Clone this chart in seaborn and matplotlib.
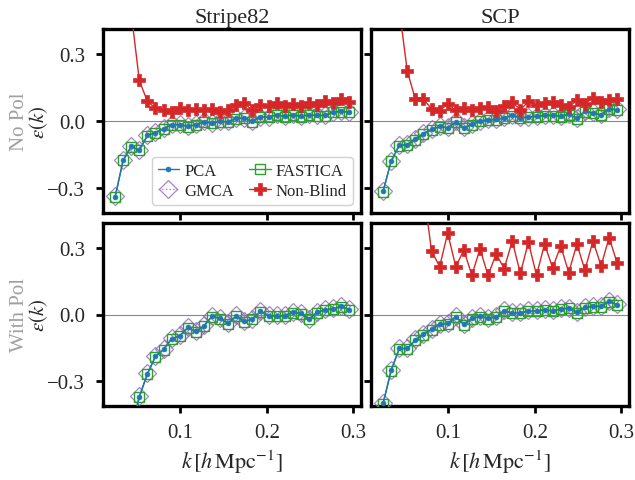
import matplotlib
matplotlib.use("Agg")
import matplotlib.pyplot as plt
import seaborn as sns
import pandas as pd
from matplotlib.lines import Line2D

# ---------------- data ----------------
k = [0.0245, 0.0338, 0.0432, 0.0525, 0.0619, 0.0712, 0.0805, 0.0899, 0.0992, 0.1086,
     0.1179, 0.1272, 0.1366, 0.1459, 0.1553, 0.1646, 0.1739, 0.1833, 0.1926, 0.2020,
     0.2113, 0.2206, 0.2300, 0.2393, 0.2487, 0.2580, 0.2673, 0.2767, 0.2860, 0.2954]

# No Pol, Stripe82
pca_np_s82 = [-0.338, -0.175, -0.113, -0.130, -0.064, -0.052, -0.034, -0.016, -0.016, -0.024,
              -0.016, -0.004, -0.009, -0.001, -0.004, 0.013, 0.013, -0.001, 0.018, 0.018,
              0.028, 0.021, 0.028, 0.021, 0.028, 0.025, 0.025, 0.040, 0.043, 0.040]
fica_np_s82 = [-0.340, -0.176, -0.115, -0.131, -0.066, -0.053, -0.035, -0.018, -0.017, -0.026,
               -0.017, -0.006, -0.010, -0.003, -0.006, 0.011, 0.012, -0.003, 0.016, 0.017,
               0.026, 0.020, 0.026, 0.020, 0.026, 0.024, 0.024, 0.038, 0.041, 0.039]
gmca_np_s82 = [-0.336, -0.173, -0.111, -0.128, -0.062, -0.050, -0.032, -0.014, -0.014, -0.022,
               -0.014, -0.002, -0.007, 0.001, -0.002, 0.015, 0.015, 0.001, 0.020, 0.020,
               0.030, 0.023, 0.030, 0.023, 0.030, 0.027, 0.027, 0.042, 0.045, 0.042]
nb_np_s82 = [3.0, 1.2, 0.48, 0.181, 0.087, 0.058, 0.050, 0.040, 0.058, 0.047,
             0.055, 0.047, 0.055, 0.040, 0.050, 0.070, 0.080, 0.047, 0.070, 0.065,
             0.080, 0.065, 0.077, 0.065, 0.080, 0.070, 0.089, 0.080, 0.096, 0.084]

# No Pol, SCP
pca_np_scp = [-0.313, -0.179, -0.108, -0.105, -0.081, -0.056, -0.037, -0.024, -0.030, -0.004,
              -0.030, -0.015, 0.000, 0.006, 0.007, 0.015, 0.025, 0.015, 0.018, 0.021,
              0.025, 0.025, 0.022, 0.030, 0.013, 0.043, 0.036, 0.028, 0.055, 0.050]
fica_np_scp = [-0.315, -0.180, -0.110, -0.107, -0.083, -0.058, -0.039, -0.026, -0.031, -0.006,
               -0.031, -0.017, -0.002, 0.004, 0.005, 0.013, 0.023, 0.013, 0.016, 0.019,
               0.023, 0.023, 0.020, 0.028, 0.011, 0.041, 0.034, 0.026, 0.053, 0.048]
gmca_np_scp = [-0.311, -0.177, -0.106, -0.103, -0.079, -0.054, -0.035, -0.022, -0.028, -0.002,
               -0.028, -0.013, 0.002, 0.008, 0.009, 0.017, 0.027, 0.017, 0.020, 0.023,
               0.027, 0.027, 0.024, 0.032, 0.015, 0.045, 0.038, 0.030, 0.057, 0.052]
nb_np_scp = [3.0, 1.2, 0.50, 0.222, 0.096, 0.096, 0.055, 0.044, 0.077, 0.047,
             0.058, 0.050, 0.058, 0.062, 0.044, 0.065, 0.084, 0.050, 0.087, 0.070,
             0.080, 0.084, 0.073, 0.062, 0.092, 0.077, 0.104, 0.084, 0.092, 0.099]

# With Pol, Stripe82
pca_wp_s82 = [-1.50, -0.90, -0.52, -0.368, -0.265, -0.187, -0.156, -0.108, -0.096, -0.058,
              -0.076, -0.051, -0.008, -0.017, -0.039, -0.005, -0.031, -0.020, 0.014, -0.005,
              -0.005, -0.005, 0.010, 0.005, -0.020, 0.010, 0.022, 0.025, 0.037, 0.022]
fica_wp_s82 = [-1.50, -0.90, -0.52, -0.370, -0.267, -0.189, -0.158, -0.110, -0.098, -0.060,
               -0.078, -0.053, -0.010, -0.019, -0.041, -0.007, -0.033, -0.022, 0.012, -0.007,
               -0.007, -0.007, 0.008, 0.003, -0.022, 0.008, 0.020, 0.023, 0.035, 0.020]
gmca_wp_s82 = [-1.50, -0.90, -0.52, -0.366, -0.263, -0.185, -0.154, -0.106, -0.094, -0.056,
               -0.074, -0.049, -0.006, -0.015, -0.037, -0.003, -0.029, -0.018, 0.016, -0.003,
               -0.003, -0.003, 0.012, 0.007, -0.018, 0.012, 0.024, 0.027, 0.039, 0.024]

# With Pol, SCP
pca_wp_scp = [-0.398, -0.250, -0.152, -0.152, -0.114, -0.088, -0.066, -0.043, -0.040, -0.010,
              -0.043, -0.016, -0.008, -0.016, -0.010, 0.017, 0.007, 0.007, 0.017, 0.017,
              0.022, 0.017, 0.025, 0.029, 0.010, 0.032, 0.037, 0.037, 0.060, 0.043]
fica_wp_scp = [-0.400, -0.252, -0.154, -0.154, -0.116, -0.090, -0.068, -0.045, -0.042, -0.012,
               -0.045, -0.018, -0.010, -0.018, -0.012, 0.015, 0.005, 0.005, 0.015, 0.015,
               0.020, 0.015, 0.023, 0.027, 0.008, 0.030, 0.035, 0.035, 0.058, 0.041]
gmca_wp_scp = [-0.396, -0.248, -0.150, -0.150, -0.112, -0.086, -0.064, -0.041, -0.038, -0.008,
               -0.041, -0.014, -0.006, -0.014, -0.008, 0.019, 0.009, 0.009, 0.019, 0.019,
               0.024, 0.019, 0.027, 0.031, 0.012, 0.034, 0.039, 0.039, 0.062, 0.045]
nb_wp_scp = [3.0, 2.0, 1.5, 1.1, 0.80, 0.56, 0.286, 0.214, 0.365, 0.214,
             0.289, 0.176, 0.294, 0.176, 0.271, 0.206, 0.330, 0.184, 0.324, 0.176,
             0.316, 0.209, 0.307, 0.188, 0.316, 0.199, 0.330, 0.218, 0.345, 0.229]

fields = ["Stripe82", "SCP"]
rows = ["No Pol", "With Pol"]
methods = ["GMCA", "FASTICA", "PCA", "Non-Blind"]
legend_order = ["PCA", "GMCA", "FASTICA", "Non-Blind"]

panel_data = {
    ("No Pol", "Stripe82"): {"PCA": pca_np_s82, "FASTICA": fica_np_s82,
                             "GMCA": gmca_np_s82, "Non-Blind": nb_np_s82},
    ("No Pol", "SCP"): {"PCA": pca_np_scp, "FASTICA": fica_np_scp,
                        "GMCA": gmca_np_scp, "Non-Blind": nb_np_scp},
    ("With Pol", "Stripe82"): {"PCA": pca_wp_s82, "FASTICA": fica_wp_s82,
                               "GMCA": gmca_wp_s82},
    ("With Pol", "SCP"): {"PCA": pca_wp_scp, "FASTICA": fica_wp_scp,
                          "GMCA": gmca_wp_scp, "Non-Blind": nb_wp_scp},
}

records = []
for (row, field), d in panel_data.items():
    for m, vals in d.items():
        for kk, v in zip(k, vals):
            records.append({"row": row, "field": field, "method": m, "k": kk, "eps": v})
df = pd.DataFrame(records)

# ---------------- styling ----------------
sns.set_theme(style="ticks")
plt.rcParams["font.family"] = ["Liberation Serif", "DejaVu Serif"]
plt.rcParams["mathtext.fontset"] = "stix"
plt.rcParams["axes.unicode_minus"] = True

styles = {
    "PCA": dict(color="#1f77b4", marker="o", markersize=3.5, linewidth=1.0,
                linestyle="-", markerfacecolor="#1f77b4", markeredgecolor="#1f77b4",
                markeredgewidth=0.5),
    "FASTICA": dict(color="#2ca02c", marker="s", markersize=6.5, linewidth=1.0,
                    linestyle="-", markerfacecolor="none", markeredgecolor="#2ca02c",
                    markeredgewidth=1.0),
    "GMCA": dict(color="#9467bd", marker="D", markersize=9, linewidth=1.0,
                 linestyle=":", markerfacecolor="none", markeredgecolor="#9467bd",
                 markeredgewidth=0.9, alpha=0.8),
    "Non-Blind": dict(color="#d62728", marker="P", markersize=8, linewidth=1.0,
                      linestyle="-", markerfacecolor="#d62728", markeredgecolor="#d62728",
                      markeredgewidth=0.5),
}

fig = plt.figure(figsize=(6.35, 4.81), dpi=100)
W, H = 635.0, 481.0
col_x = [103.0, 371.0]
col_w = 258.0
row_y = [(30.0, 214.0), (224.0, 407.0)]

FS = 15
axes = {}
first = None
for ri, row in enumerate(rows):
    for ci, field in enumerate(fields):
        y0, y1 = row_y[ri]
        rect = [col_x[ci] / W, 1 - y1 / H, col_w / W, (y1 - y0) / H]
        ax = fig.add_axes(rect, sharex=first, sharey=first)
        if first is None:
            first = ax
        axes[(row, field)] = ax
        ax.axhline(0, color="#888888", lw=0.8, zorder=1)
        sub = df[(df["row"] == row) & (df["field"] == field)]
        for m in methods:
            s = sub[sub["method"] == m]
            if s.empty:
                continue
            sns.lineplot(data=s, x="k", y="eps", ax=ax, estimator=None, sort=False,
                         legend=False, zorder=3, **styles[m])
        for sp in ax.spines.values():
            sp.set_linewidth(2.4)
            sp.set_color("black")
        ax.tick_params(direction="out", length=5, width=2.0, labelsize=FS,
                       color="black")
        ax.tick_params(axis="x", pad=7)
        ax.tick_params(axis="y", pad=8)
        ax.set_xlabel("")
        ax.set_ylabel("")
        if ri == 0:
            ax.set_title(field, fontsize=16, pad=5)
            ax.tick_params(labelbottom=False)
        else:
            ax.set_xlabel(r"$k\,[h\,\mathrm{Mpc}^{-1}]$", fontsize=16, labelpad=4)
        if ci == 0:
            ax.set_ylabel(r"$\varepsilon(k)$", fontsize=FS)
            ax.yaxis.set_label_coords(-0.205, 0.5)
            ax.text(-0.325, 0.5, row, transform=ax.transAxes, rotation=90,
                    ha="center", va="center", fontsize=FS, color="#a0a0a0")
        else:
            ax.tick_params(labelleft=False)

first.set_xlim(0.0105, 0.309)
first.set_ylim(-0.41, 0.41)
first.set_xticks([0.1, 0.2, 0.3])
first.set_yticks([-0.3, 0.0, 0.3])
first.set_xticklabels(["0.1", "0.2", "0.3"])
first.set_yticklabels(["\u22120.3", "0.0", "0.3"])

handles = []
for m in legend_order:
    st = dict(styles[m])
    handles.append(Line2D([], [], label=m, **st))
leg = axes[("No Pol", "Stripe82")].legend(
    handles=handles, loc="lower right", ncol=2, fontsize=12, frameon=True,
    fancybox=True, edgecolor="#cccccc", framealpha=0.9, handlelength=1.3,
    handletextpad=0.3, columnspacing=0.9, labelspacing=0.25, borderpad=0.35,
    borderaxespad=0.5)

fig.savefig("out.png", dpi=100)
